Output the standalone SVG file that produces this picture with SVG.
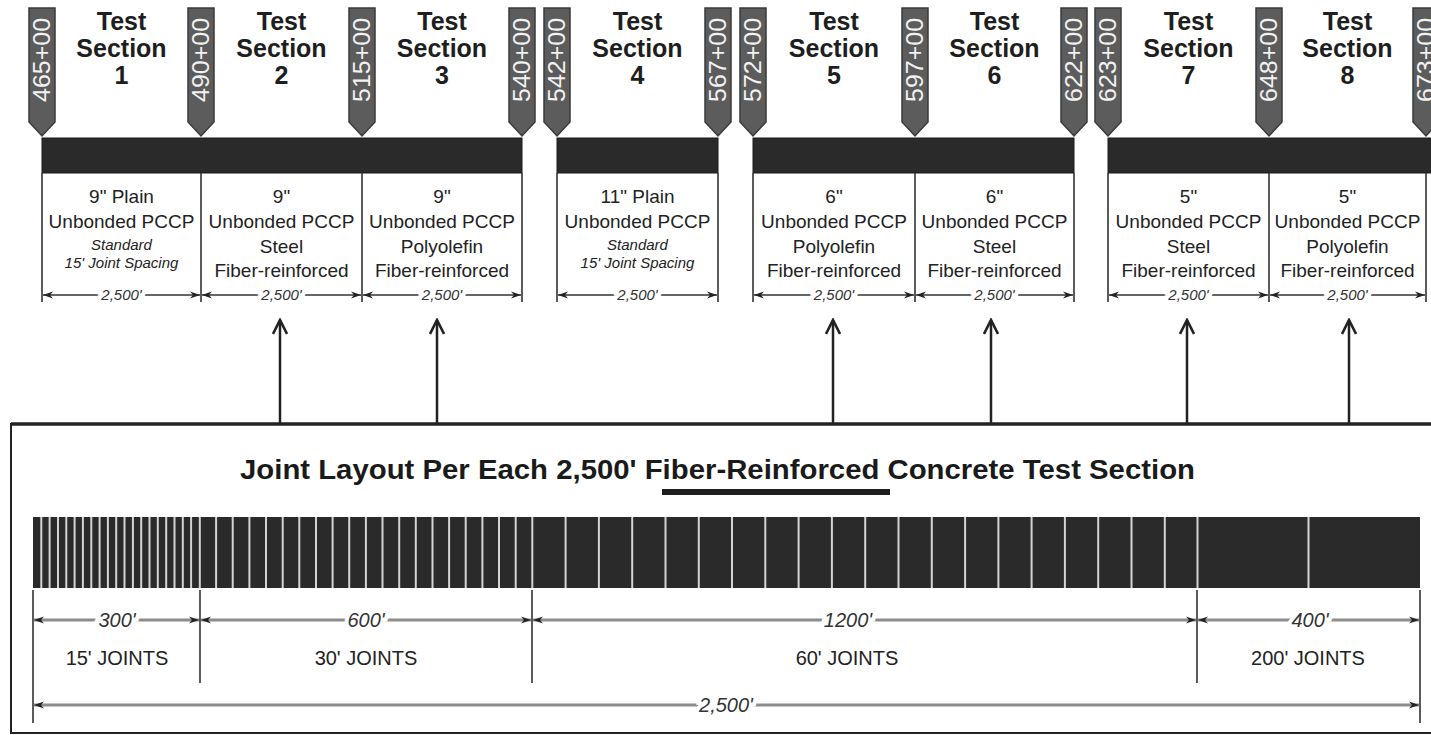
<svg xmlns="http://www.w3.org/2000/svg" xmlns:xlink="http://www.w3.org/1999/xlink" width="1431" height="735" viewBox="0 0 1431 735">
<style>
.title{font-family:"Liberation Sans",Arial,sans-serif;font-weight:bold;font-size:25px;fill:#1e1e1e;text-anchor:middle}
.mktxt{font-family:"Liberation Sans",Arial,sans-serif;font-size:23px;fill:#f2f2f2;text-anchor:middle}
.box{font-family:"Liberation Sans",Arial,sans-serif;font-size:19px;fill:#222;text-anchor:middle}
.ital{font-family:"Liberation Sans",Arial,sans-serif;font-size:15px;font-style:italic;fill:#222;text-anchor:middle}
.dimt{font-family:"Liberation Sans",Arial,sans-serif;font-size:15px;font-style:italic;fill:#333;text-anchor:middle;stroke:#fff;stroke-width:8;paint-order:stroke}
.dimb{font-family:"Liberation Sans",Arial,sans-serif;font-size:20px;font-style:italic;fill:#333;text-anchor:middle;stroke:#fff;stroke-width:8;paint-order:stroke}
.joints{font-family:"Liberation Sans",Arial,sans-serif;font-size:20px;fill:#222;text-anchor:middle}
.bar{fill:#2a2a2a;stroke:#1a1a1a;stroke-width:1}
.vl{stroke:#333;stroke-width:1.6}
.dl{stroke:#333;stroke-width:1.5;fill:none;marker-start:url(#ah);marker-end:url(#ah)}
.dlb{stroke:#8c8c8c;stroke-width:3;fill:none;marker-start:url(#ahb);marker-end:url(#ahb)}
.up{stroke:#222;stroke-width:2.5;fill:none;marker-end:url(#uh)}
.mk{fill:#5c5c5c;stroke:#3a3a3a;stroke-width:1.5}
.jt{stroke:#d4d4d4;stroke-width:2}
</style>
<defs>
<path id="mkshape" d="M-13,8 H13 V122 L0,136 L-13,122 Z"/>
<marker id="ah" viewBox="0 0 10 8" refX="10" refY="4" markerWidth="10" markerHeight="8" markerUnits="userSpaceOnUse" orient="auto-start-reverse">
<path d="M0,0.5 L10,4 L0,7.5 L3,4 Z" fill="#222"/>
</marker>
<marker id="ahb" viewBox="0 0 10 8" refX="10" refY="4" markerWidth="10" markerHeight="8" markerUnits="userSpaceOnUse" orient="auto-start-reverse">
<path d="M0,0.5 L10,4 L0,7.5 L3,4 Z" fill="#222"/>
</marker>
<marker id="uh" viewBox="0 0 18 16" refX="16" refY="8" markerWidth="18" markerHeight="16" markerUnits="userSpaceOnUse" orient="auto">
<path d="M2,1 L16,8 L2,15" fill="none" stroke="#222" stroke-width="2.6"/>
</marker>
</defs>
<rect width="1431" height="735" fill="#fff"/>

<!-- station markers -->
<g id="markers">
<g id="m465"><use xlink:href="#mkshape" x="42" class="mk"/><text class="mktxt" transform="translate(42,60) rotate(-90)" dy="8" textLength="84" lengthAdjust="spacingAndGlyphs">465+00</text></g>
<g id="m490"><use xlink:href="#mkshape" x="201" class="mk"/><text class="mktxt" transform="translate(201,60) rotate(-90)" dy="8" textLength="84" lengthAdjust="spacingAndGlyphs">490+00</text></g>
<g id="m515"><use xlink:href="#mkshape" x="362" class="mk"/><text class="mktxt" transform="translate(362,60) rotate(-90)" dy="8" textLength="84" lengthAdjust="spacingAndGlyphs">515+00</text></g>
<g id="m540"><use xlink:href="#mkshape" x="522" class="mk"/><text class="mktxt" transform="translate(522,60) rotate(-90)" dy="8" textLength="84" lengthAdjust="spacingAndGlyphs">540+00</text></g>
<g id="m542"><use xlink:href="#mkshape" x="557" class="mk"/><text class="mktxt" transform="translate(557,60) rotate(-90)" dy="8" textLength="84" lengthAdjust="spacingAndGlyphs">542+00</text></g>
<g id="m567"><use xlink:href="#mkshape" x="718" class="mk"/><text class="mktxt" transform="translate(718,60) rotate(-90)" dy="8" textLength="84" lengthAdjust="spacingAndGlyphs">567+00</text></g>
<g id="m572"><use xlink:href="#mkshape" x="753" class="mk"/><text class="mktxt" transform="translate(753,60) rotate(-90)" dy="8" textLength="84" lengthAdjust="spacingAndGlyphs">572+00</text></g>
<g id="m597"><use xlink:href="#mkshape" x="915" class="mk"/><text class="mktxt" transform="translate(915,60) rotate(-90)" dy="8" textLength="84" lengthAdjust="spacingAndGlyphs">597+00</text></g>
<g id="m622"><use xlink:href="#mkshape" x="1074" class="mk"/><text class="mktxt" transform="translate(1074,60) rotate(-90)" dy="8" textLength="84" lengthAdjust="spacingAndGlyphs">622+00</text></g>
<g id="m623"><use xlink:href="#mkshape" x="1108" class="mk"/><text class="mktxt" transform="translate(1108,60) rotate(-90)" dy="8" textLength="84" lengthAdjust="spacingAndGlyphs">623+00</text></g>
<g id="m648"><use xlink:href="#mkshape" x="1269" class="mk"/><text class="mktxt" transform="translate(1269,60) rotate(-90)" dy="8" textLength="84" lengthAdjust="spacingAndGlyphs">648+00</text></g>
<g id="m673"><use xlink:href="#mkshape" x="1426" class="mk"/><text class="mktxt" transform="translate(1426,60) rotate(-90)" dy="8" textLength="84" lengthAdjust="spacingAndGlyphs">673+00</text></g>
</g>

<!-- pavement bars -->
<g id="bars">
<rect class="bar" x="42" y="138" width="480" height="35"/>
<rect class="bar" x="557" y="138" width="161" height="35"/>
<rect class="bar" x="753" y="138" width="321" height="35"/>
<rect class="bar" x="1108" y="138" width="330" height="35"/>
</g>

<!-- section boundary lines -->
<g id="boundaries">
<line class="vl" x1="42" y1="173" x2="42" y2="302"/>
<line class="vl" x1="201" y1="173" x2="201" y2="302"/>
<line class="vl" x1="362" y1="173" x2="362" y2="302"/>
<line class="vl" x1="522" y1="173" x2="522" y2="302"/>
<line class="vl" x1="557" y1="173" x2="557" y2="302"/>
<line class="vl" x1="718" y1="173" x2="718" y2="302"/>
<line class="vl" x1="753" y1="173" x2="753" y2="302"/>
<line class="vl" x1="915" y1="173" x2="915" y2="302"/>
<line class="vl" x1="1074" y1="173" x2="1074" y2="302"/>
<line class="vl" x1="1108" y1="173" x2="1108" y2="302"/>
<line class="vl" x1="1269" y1="173" x2="1269" y2="302"/>
<line class="vl" x1="1426" y1="173" x2="1426" y2="302"/>
</g>

<g id="section1">
<text class="title" x="121.5" y="30">Test</text><text class="title" x="121.5" y="57">Section</text><text class="title" x="121.5" y="84">1</text>
<text class="box" x="121.5" y="203">9" Plain</text><text class="box" x="121.5" y="228">Unbonded PCCP</text>
<text class="ital" x="121.5" y="250">Standard</text><text class="ital" x="121.5" y="268">15' Joint Spacing</text>
</g>
<g id="section2">
<text class="title" x="281.5" y="30">Test</text><text class="title" x="281.5" y="57">Section</text><text class="title" x="281.5" y="84">2</text>
<text class="box" x="281.5" y="203">9"</text><text class="box" x="281.5" y="228">Unbonded PCCP</text>
<text class="box" x="281.5" y="253">Steel</text><text class="box" x="281.5" y="277">Fiber-reinforced</text>
</g>
<g id="section3">
<text class="title" x="442" y="30">Test</text><text class="title" x="442" y="57">Section</text><text class="title" x="442" y="84">3</text>
<text class="box" x="442" y="203">9"</text><text class="box" x="442" y="228">Unbonded PCCP</text>
<text class="box" x="442" y="253">Polyolefin</text><text class="box" x="442" y="277">Fiber-reinforced</text>
</g>
<g id="section4">
<text class="title" x="637.5" y="30">Test</text><text class="title" x="637.5" y="57">Section</text><text class="title" x="637.5" y="84">4</text>
<text class="box" x="637.5" y="203">11" Plain</text><text class="box" x="637.5" y="228">Unbonded PCCP</text>
<text class="ital" x="637.5" y="250">Standard</text><text class="ital" x="637.5" y="268">15' Joint Spacing</text>
</g>
<g id="section5">
<text class="title" x="834" y="30">Test</text><text class="title" x="834" y="57">Section</text><text class="title" x="834" y="84">5</text>
<text class="box" x="834" y="203">6"</text><text class="box" x="834" y="228">Unbonded PCCP</text>
<text class="box" x="834" y="253">Polyolefin</text><text class="box" x="834" y="277">Fiber-reinforced</text>
</g>
<g id="section6">
<text class="title" x="994.5" y="30">Test</text><text class="title" x="994.5" y="57">Section</text><text class="title" x="994.5" y="84">6</text>
<text class="box" x="994.5" y="203">6"</text><text class="box" x="994.5" y="228">Unbonded PCCP</text>
<text class="box" x="994.5" y="253">Steel</text><text class="box" x="994.5" y="277">Fiber-reinforced</text>
</g>
<g id="section7">
<text class="title" x="1188.5" y="30">Test</text><text class="title" x="1188.5" y="57">Section</text><text class="title" x="1188.5" y="84">7</text>
<text class="box" x="1188.5" y="203">5"</text><text class="box" x="1188.5" y="228">Unbonded PCCP</text>
<text class="box" x="1188.5" y="253">Steel</text><text class="box" x="1188.5" y="277">Fiber-reinforced</text>
</g>
<g id="section8">
<text class="title" x="1347.5" y="30">Test</text><text class="title" x="1347.5" y="57">Section</text><text class="title" x="1347.5" y="84">8</text>
<text class="box" x="1347.5" y="203">5"</text><text class="box" x="1347.5" y="228">Unbonded PCCP</text>
<text class="box" x="1347.5" y="253">Polyolefin</text><text class="box" x="1347.5" y="277">Fiber-reinforced</text>
</g>

<!-- top dimension lines -->
<g id="top-dims">
<line class="dl" x1="43" y1="295" x2="200" y2="295"/><text class="dimt" x="121.5" y="300">2,500'</text>
<line class="dl" x1="202" y1="295" x2="361" y2="295"/><text class="dimt" x="281.5" y="300">2,500'</text>
<line class="dl" x1="363" y1="295" x2="521" y2="295"/><text class="dimt" x="442" y="300">2,500'</text>
<line class="dl" x1="558" y1="295" x2="717" y2="295"/><text class="dimt" x="637.5" y="300">2,500'</text>
<line class="dl" x1="754" y1="295" x2="914" y2="295"/><text class="dimt" x="834" y="300">2,500'</text>
<line class="dl" x1="916" y1="295" x2="1073" y2="295"/><text class="dimt" x="994.5" y="300">2,500'</text>
<line class="dl" x1="1109" y1="295" x2="1268" y2="295"/><text class="dimt" x="1188.5" y="300">2,500'</text>
<line class="dl" x1="1270" y1="295" x2="1425" y2="295"/><text class="dimt" x="1347.5" y="300">2,500'</text>
</g>

<!-- connectors -->
<g id="connectors">
<line class="up" x1="280" y1="423" x2="280" y2="320"/>
<line class="up" x1="437" y1="423" x2="437" y2="320"/>
<line class="up" x1="833" y1="423" x2="833" y2="320"/>
<line class="up" x1="991" y1="423" x2="991" y2="320"/>
<line class="up" x1="1187" y1="423" x2="1187" y2="320"/>
<line class="up" x1="1349" y1="423" x2="1349" y2="320"/>
</g>

<!-- joint layout box -->
<g id="joint-layout">
<rect x="11" y="424" width="1432" height="309" fill="none" stroke="#222" stroke-width="2"/>
<line x1="11" y1="424" x2="1431" y2="424" stroke="#222" stroke-width="3.5"/>
<text x="240" y="479" font-family="'Liberation Sans',Arial,sans-serif" font-weight="bold" font-size="27" fill="#1a1a1a" textLength="955" lengthAdjust="spacingAndGlyphs">Joint Layout Per Each 2,500' Fiber-Reinforced Concrete Test Section</text>
<rect x="662" y="489" width="228" height="6" fill="#1e1e1e"/>

<rect x="33" y="517" width="1387" height="71" fill="#2a2a2a"/>
<g class="jt">
<line x1="41.3" y1="517" x2="41.3" y2="588"/><line x1="49.6" y1="517" x2="49.6" y2="588"/><line x1="58" y1="517" x2="58" y2="588"/><line x1="66.3" y1="517" x2="66.3" y2="588"/><line x1="74.6" y1="517" x2="74.6" y2="588"/><line x1="82.9" y1="517" x2="82.9" y2="588"/><line x1="91.3" y1="517" x2="91.3" y2="588"/><line x1="99.6" y1="517" x2="99.6" y2="588"/><line x1="107.9" y1="517" x2="107.9" y2="588"/><line x1="116.2" y1="517" x2="116.2" y2="588"/><line x1="124.5" y1="517" x2="124.5" y2="588"/><line x1="132.9" y1="517" x2="132.9" y2="588"/><line x1="141.2" y1="517" x2="141.2" y2="588"/><line x1="149.5" y1="517" x2="149.5" y2="588"/><line x1="157.8" y1="517" x2="157.8" y2="588"/><line x1="166.2" y1="517" x2="166.2" y2="588"/><line x1="174.5" y1="517" x2="174.5" y2="588"/><line x1="182.8" y1="517" x2="182.8" y2="588"/><line x1="191.1" y1="517" x2="191.1" y2="588"/><line x1="199.8" y1="517" x2="199.8" y2="588"/>
<line x1="216.1" y1="517" x2="216.1" y2="588"/><line x1="232.7" y1="517" x2="232.7" y2="588"/><line x1="249.4" y1="517" x2="249.4" y2="588"/><line x1="266" y1="517" x2="266" y2="588"/><line x1="282.7" y1="517" x2="282.7" y2="588"/><line x1="299.3" y1="517" x2="299.3" y2="588"/><line x1="316" y1="517" x2="316" y2="588"/><line x1="332.6" y1="517" x2="332.6" y2="588"/><line x1="349.2" y1="517" x2="349.2" y2="588"/><line x1="365.9" y1="517" x2="365.9" y2="588"/><line x1="382.5" y1="517" x2="382.5" y2="588"/><line x1="399.2" y1="517" x2="399.2" y2="588"/><line x1="415.8" y1="517" x2="415.8" y2="588"/><line x1="432.5" y1="517" x2="432.5" y2="588"/><line x1="449.1" y1="517" x2="449.1" y2="588"/><line x1="465.7" y1="517" x2="465.7" y2="588"/><line x1="482.4" y1="517" x2="482.4" y2="588"/><line x1="499" y1="517" x2="499" y2="588"/><line x1="515.7" y1="517" x2="515.7" y2="588"/><line x1="532.3" y1="517" x2="532.3" y2="588"/>
<line x1="565.6" y1="517" x2="565.6" y2="588"/><line x1="598.9" y1="517" x2="598.9" y2="588"/><line x1="632.2" y1="517" x2="632.2" y2="588"/><line x1="665.5" y1="517" x2="665.5" y2="588"/><line x1="698.8" y1="517" x2="698.8" y2="588"/><line x1="732" y1="517" x2="732" y2="588"/><line x1="765.3" y1="517" x2="765.3" y2="588"/><line x1="798.6" y1="517" x2="798.6" y2="588"/><line x1="831.9" y1="517" x2="831.9" y2="588"/><line x1="865.2" y1="517" x2="865.2" y2="588"/><line x1="898.5" y1="517" x2="898.5" y2="588"/><line x1="931.8" y1="517" x2="931.8" y2="588"/><line x1="965.1" y1="517" x2="965.1" y2="588"/><line x1="998.4" y1="517" x2="998.4" y2="588"/><line x1="1031.6" y1="517" x2="1031.6" y2="588"/><line x1="1064.9" y1="517" x2="1064.9" y2="588"/><line x1="1098.2" y1="517" x2="1098.2" y2="588"/><line x1="1131.5" y1="517" x2="1131.5" y2="588"/><line x1="1164.8" y1="517" x2="1164.8" y2="588"/><line x1="1197.5" y1="517" x2="1197.5" y2="588"/>
<line x1="1308.5" y1="517" x2="1308.5" y2="588"/>
</g>

<g class="vl">
<line x1="33" y1="590" x2="33" y2="723"/>
<line x1="200" y1="590" x2="200" y2="683"/>
<line x1="532" y1="590" x2="532" y2="683"/>
<line x1="1197" y1="590" x2="1197" y2="683"/>
<line x1="1420" y1="590" x2="1420" y2="723"/>
</g>
<line class="dlb" x1="34" y1="620" x2="199" y2="620"/>
<line class="dlb" x1="201" y1="620" x2="531" y2="620"/>
<line class="dlb" x1="533" y1="620" x2="1196" y2="620"/>
<line class="dlb" x1="1198" y1="620" x2="1419" y2="620"/>
<line class="dlb" x1="34" y1="705" x2="1419" y2="705"/>
<text class="dimb" x="117" y="627">300'</text>
<text class="dimb" x="366" y="627">600'</text>
<text class="dimb" x="848" y="627">1200'</text>
<text class="dimb" x="1310" y="627">400'</text>
<text class="dimb" x="726" y="712">2,500'</text>
<text class="joints" x="117" y="665">15' JOINTS</text>
<text class="joints" x="366" y="665">30' JOINTS</text>
<text class="joints" x="847" y="665">60' JOINTS</text>
<text class="joints" x="1308" y="665">200' JOINTS</text>
</g>
</svg>
